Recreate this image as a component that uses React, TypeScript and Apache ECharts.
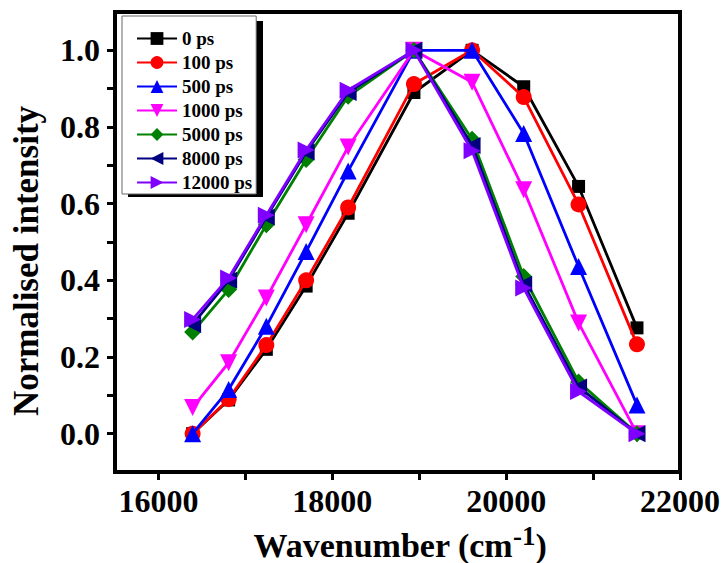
import React, { useEffect, useRef } from "react";
import * as echarts from "echarts";

const wavenumbers = [16393, 16807, 17241, 17699, 18182, 18939, 19608, 20202, 20833, 21505];
const ps0 = [0.0, 0.088, 0.22, 0.385, 0.575, 0.89, 1.0, 0.905, 0.645, 0.276];
const ps100 = [0.0, 0.09, 0.231, 0.4, 0.59, 0.912, 1.0, 0.878, 0.598, 0.233];
const ps500 = [0.0, 0.115, 0.28, 0.475, 0.685, 1.0, 1.0, 0.783, 0.436, 0.075];
const ps1000 = [0.068, 0.185, 0.354, 0.545, 0.748, 1.0, 0.917, 0.636, 0.289, 0.0];
const ps5000 = [0.265, 0.376, 0.545, 0.715, 0.88, 1.0, 0.768, 0.41, 0.135, 0.0];
const ps8000 = [0.285, 0.4, 0.565, 0.735, 0.89, 1.0, 0.752, 0.39, 0.122, 0.0];
const ps12000 = [0.298, 0.406, 0.57, 0.74, 0.896, 1.0, 0.738, 0.38, 0.11, 0.0];

const seriesNames = ["0 ps", "100 ps", "500 ps", "1000 ps", "5000 ps", "8000 ps", "12000 ps"];
const seriesValues = [ps0, ps100, ps500, ps1000, ps5000, ps8000, ps12000];

const xTickValues = [16000, 17000, 18000, 19000, 20000, 21000, 22000];
const xLabelValues = [16000, 18000, 20000, 22000];
const yTickValues = [0, 0.1, 0.2, 0.3, 0.4, 0.5, 0.6, 0.7, 0.8, 0.9, 1.0];
const yLabelValues = [0, 0.2, 0.4, 0.6, 0.8, 1.0];

const colors = ["#000000", "#FF0000", "#0000FF", "#FF00FF", "#008000", "#000080", "#8000FF"];
const symbols = ["rect", "circle", "triangle", "triangle", "diamond", "triangle", "triangle"];
const rotations = [0, 0, 0, 180, 0, 90, -90];
const sizes = [13, 16, 17, 17, 17, 17, 17];

const FONT = "'Liberation Serif', 'Times New Roman', serif";

export default function App() {
  const ref = useRef<HTMLDivElement>(null);
  useEffect(() => {
    if (!ref.current) return;
    const chart = echarts.init(ref.current, null, { renderer: "svg" });
    const series = seriesNames.map((name, i) => ({
      name,
      type: "line",
      data: wavenumbers.map((x, j) => [x, seriesValues[i][j]]),
      symbol: symbols[i],
      symbolRotate: rotations[i],
      symbolSize: sizes[i],
      showSymbol: true,
      color: colors[i],
      lineStyle: { color: colors[i], width: 2.8 },
      itemStyle: { color: colors[i] },
      z: 2 + i * 0.01,
    }));
    chart.setOption({
      animation: false,
      backgroundColor: "#ffffff",
      textStyle: { fontFamily: FONT },
      grid: {
        left: 115,
        right: 46,
        top: 12,
        bottom: 91,
        containLabel: false,
        outerBoundsMode: "none",
        show: true,
        borderColor: "#000",
        borderWidth: 4,
        backgroundColor: "transparent",
      },
      legend: {
        orient: "vertical",
        left: 122,
        top: 16,
        itemWidth: 40,
        itemHeight: 16,
        itemGap: 5,
        padding: [13, 4, 2, 14],
        backgroundColor: "#ffffff",
        borderColor: "#666",
        borderWidth: 1,
        z: 10,
        textStyle: { fontFamily: FONT, fontWeight: "bold", fontSize: 19, color: "#000" },
        data: seriesNames,
      },
      graphic: [
        {
          type: "rect",
          z: 9,
          shape: { x: 128, y: 21, width: 135, height: 176 },
          style: { fill: "#000" },
        },
        {
          type: "text",
          x: 26,
          y: 261,
          rotation: Math.PI / 2,
          style: {
            text: "Normalised intensity",
            font: "bold 35px " + FONT,
            fill: "#000",
            align: "center",
            verticalAlign: "middle",
          },
        },
        {
          type: "text",
          x: 400,
          y: 562,
          style: {
            text: "{a|Wavenumber (cm}{c|-1}{a|)}",
            align: "center",
            verticalAlign: "bottom",
            fill: "#000",
            rich: {
              a: { fontFamily: FONT, fontWeight: "bold", fontSize: 34, fill: "#000", verticalAlign: "bottom" },
              c: {
                fontFamily: FONT,
                fontWeight: "bold",
                fontSize: 27,
                fill: "#000",
                verticalAlign: "bottom",
                padding: [0, 0, 13, 0],
              },
            },
          },
        },
      ],
      xAxis: {
        type: "value",
        min: 15500,
        max: 22000,
        position: "bottom",
        axisLine: { show: true, onZero: false, lineStyle: { color: "#000", width: 4 } },
        axisTick: {
          show: true,
          inside: false,
          length: 8,
          customValues: xTickValues,
          lineStyle: { color: "#000", width: 3 },
        },
        axisLabel: {
          customValues: xLabelValues,
          margin: 13,
          fontFamily: FONT,
          fontWeight: "bold",
          fontSize: 32,
          color: "#000",
          formatter: (v: number) => String(v),
        },
        splitLine: { show: false },
      },
      yAxis: {
        type: "value",
        min: -0.1,
        max: 1.1,
        axisLine: { show: true, onZero: false, lineStyle: { color: "#000", width: 4 } },
        axisTick: {
          show: true,
          inside: false,
          length: 8,
          customValues: yTickValues,
          lineStyle: { color: "#000", width: 3 },
        },
        axisLabel: {
          customValues: yLabelValues,
          margin: 15,
          fontFamily: FONT,
          fontWeight: "bold",
          fontSize: 32,
          color: "#000",
          formatter: (v: number) => v.toFixed(1),
        },
        splitLine: { show: false },
      },
      series,
    });
    return () => chart.dispose();
  }, []);
  return (
    <div
      ref={ref}
      style={{ position: "fixed", left: 0, top: 0, width: 726, height: 563, background: "#fff" }}
    />
  );
}
